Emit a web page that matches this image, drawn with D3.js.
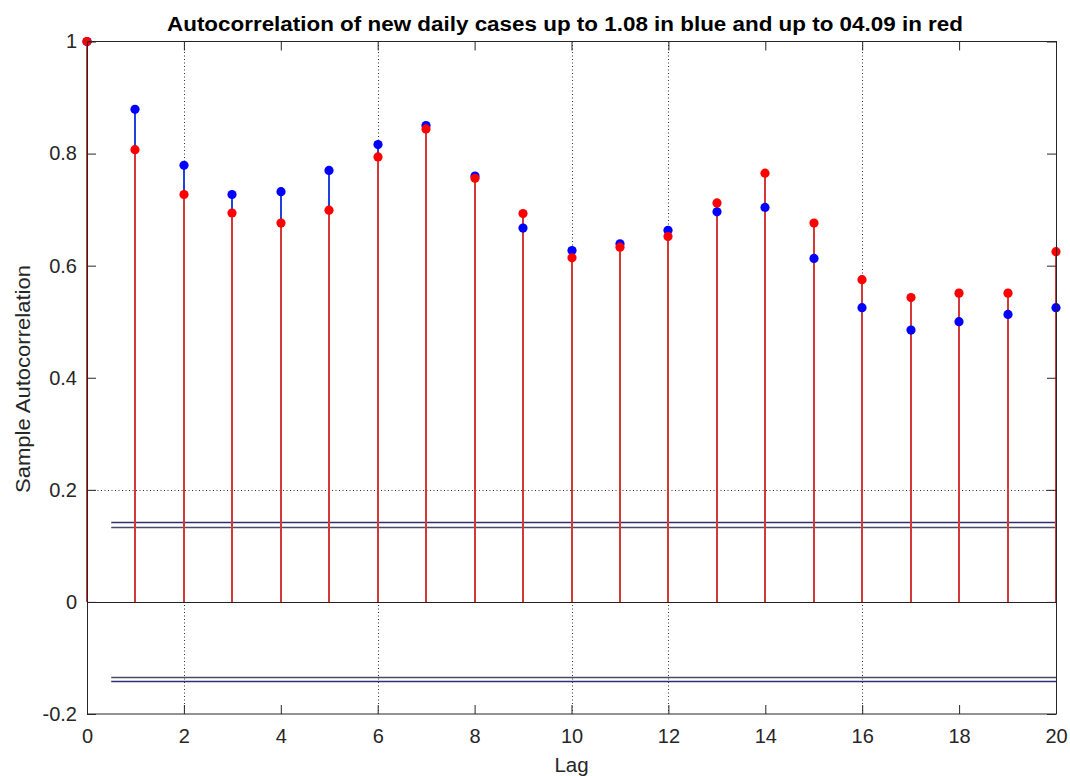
<!DOCTYPE html>
<html><head><meta charset="utf-8">
<script src="https://cdn.jsdelivr.net/npm/d3@7"></script>
<style>body{margin:0;background:#fff;} svg{display:block;}</style>
</head><body>
<svg id="chart" width="1070" height="776"></svg>
<script>
const lags = d3.range(0, 21);
const blueACF = [1, 0.879, 0.779, 0.727, 0.732, 0.770, 0.816, 0.850, 0.760, 0.667, 0.627, 0.639, 0.663, 0.696, 0.704, 0.613, 0.525, 0.485, 0.500, 0.513, 0.525];
const redACF  = [1, 0.807, 0.727, 0.694, 0.676, 0.699, 0.794, 0.844, 0.756, 0.693, 0.614, 0.633, 0.652, 0.712, 0.765, 0.676, 0.575, 0.543, 0.551, 0.551, 0.625];
const blueBounds = [0.142, -0.142];
const redBounds = [0.134, -0.134];
const xTicks = d3.range(0, 21, 2);
const yTicks = [-0.2, 0, 0.2, 0.4, 0.6, 0.8, 1];
const xGrid = [2, 6, 10, 12, 16];
const yGrid = [0.2];
const titleText = "Autocorrelation of new daily cases up to 1.08 in blue and up to 04.09 in red";

const svg = d3.select("#chart");
const L = 87, R = 1056, T = 41.5, B = 714;
const x = d3.scaleLinear().domain([0, 20]).range([L, R]);
const y = d3.scaleLinear().domain([-0.2, 1]).range([B, T]);
const font = "'Liberation Sans', Arial, sans-serif";
const axisColor = "#262626";
const px = v => Math.round(x(v)) + 0.5;
const sx = v => Math.round(x(v));

// grid
svg.append("g").selectAll("line").data(xGrid).join("line")
  .attr("x1", d => px(d)).attr("x2", d => px(d)).attr("y1", T).attr("y2", B)
  .attr("stroke", "#333").attr("stroke-width", 1).attr("stroke-dasharray", "1,2.5");
svg.append("g").selectAll("line").data(yGrid).join("line")
  .attr("x1", L).attr("x2", R).attr("y1", d => Math.round(y(d)) + 0.5).attr("y2", d => Math.round(y(d)) + 0.5)
  .attr("stroke", "#333").attr("stroke-width", 1).attr("stroke-dasharray", "1,2.5");

// confidence bounds
const bounds = [...blueBounds.map(v => ({v, c: "#303070"})), ...redBounds.map(v => ({v, c: "#4a4a66"}))];
svg.append("g").selectAll("line").data(bounds).join("line")
  .attr("x1", x(0.5)).attr("x2", R).attr("y1", d => Math.round(y(d.v)) + 0.5).attr("y2", d => Math.round(y(d.v)) + 0.5)
  .attr("stroke", d => d.c).attr("stroke-width", 1.3);

// baseline
svg.append("line").attr("x1", L).attr("x2", R).attr("y1", Math.round(y(0)) + 0.5).attr("y2", Math.round(y(0)) + 0.5)
  .attr("stroke", "#222").attr("stroke-width", 1.2);

const blueData = lags.map((l, i) => ({l, v: blueACF[i]}));
const redData = lags.map((l, i) => ({l, v: redACF[i]}));

// stems
svg.append("g").attr("shape-rendering", "crispEdges").selectAll("line").data(blueData).join("line")
  .attr("x1", d => sx(d.l)).attr("x2", d => sx(d.l)).attr("y1", y(0)).attr("y2", d => y(d.v))
  .attr("stroke", "#2040e0").attr("stroke-width", 2);
svg.append("g").attr("shape-rendering", "crispEdges").selectAll("line").data(redData).join("line")
  .attr("x1", d => sx(d.l)).attr("x2", d => sx(d.l)).attr("y1", y(0)).attr("y2", d => y(d.v))
  .attr("stroke", "#d43838").attr("stroke-width", 2);

// markers
svg.append("g").selectAll("circle").data(blueData).join("circle")
  .attr("cx", d => sx(d.l)).attr("cy", d => y(d.v)).attr("r", 4.6).attr("fill", "#0000ff");
svg.append("g").selectAll("circle").data(redData).join("circle")
  .attr("cx", d => sx(d.l)).attr("cy", d => y(d.v)).attr("r", 4.6).attr("fill", "#ff0000");

// box
svg.append("rect").attr("x", L + 0.5).attr("y", T).attr("width", R - L).attr("height", B - T)
  .attr("fill", "none").attr("stroke", axisColor).attr("stroke-width", 1);

// axes
const tl = 9;
const fmt = d => String(+d.toFixed(1));
const xb = svg.append("g").attr("transform", `translate(0,${B})`)
  .call(d3.axisBottom(x).tickValues(xTicks).tickSizeInner(-tl).tickSizeOuter(0).tickPadding(15).tickFormat(fmt));
const xt = svg.append("g").attr("transform", `translate(0,${T})`)
  .call(d3.axisTop(x).tickValues(xTicks).tickSizeInner(-tl).tickSizeOuter(0).tickFormat(""));
const yl = svg.append("g").attr("transform", `translate(${L},0)`)
  .call(d3.axisLeft(y).tickValues(yTicks).tickSizeInner(-tl).tickSizeOuter(0).tickPadding(10).tickFormat(fmt));
const yr = svg.append("g").attr("transform", `translate(${R},0)`)
  .call(d3.axisRight(y).tickValues(yTicks).tickSizeInner(-tl).tickSizeOuter(0).tickFormat(""));
[xb, xt, yl, yr].forEach(g => {
  g.select(".domain").remove();
  g.selectAll(".tick line").attr("stroke", axisColor);
  g.selectAll("text").attr("font-family", font).attr("font-size", 20).attr("fill", axisColor);
});

// title and labels
svg.append("text").attr("x", 565).attr("y", 31).attr("text-anchor", "middle")
  .attr("font-family", font).attr("font-weight", "bold").attr("font-size", 19.5)
  .attr("textLength", 796).attr("lengthAdjust", "spacingAndGlyphs")
  .attr("fill", "#000").text(titleText);
svg.append("text").attr("x", x(10)).attr("y", 772).attr("text-anchor", "middle")
  .attr("font-family", font).attr("font-size", 20.5).attr("fill", axisColor).text("Lag");
svg.append("text").attr("transform", `translate(29.5,379) rotate(-90)`).attr("text-anchor", "middle")
  .attr("font-family", font).attr("font-size", 21).attr("fill", axisColor)
  .attr("textLength", 228).attr("lengthAdjust", "spacingAndGlyphs").text("Sample Autocorrelation");
</script>
</body></html>
